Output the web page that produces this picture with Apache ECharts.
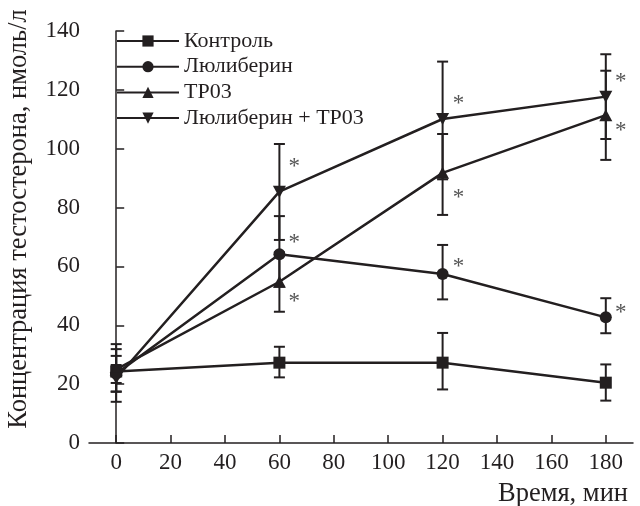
<!DOCTYPE html>
<html>
<head>
<meta charset="utf-8">
<script src="https://cdn.jsdelivr.net/npm/echarts@6/dist/echarts.min.js"></script>
<style>
  html, body { margin: 0; padding: 0; background: #fff; }
  #chart { width: 640px; height: 506px; }
</style>
</head>
<body>
<div id="chart"></div>
<script>
// время, мин
var times = [0, 60, 120, 180];
var xTicks = [0, 20, 40, 60, 80, 100, 120, 140, 160, 180];

var names = ['Контроль', 'Люлиберин', 'TP03', 'Люлиберин + TP03'];

// средние и границы ошибок
var ctrlVal = [24.3, 27.3, 27.3, 20.5];
var ctrlHi  = [31.9, 32.7, 37.4, 26.7];
var ctrlLo  = [17.4, 22.3, 18.2, 14.4];

var lulVal = [23.5, 64.1, 57.4, 42.7];
var lulHi  = [33.6, 77.1, 67.3, 49.2];
var lulLo  = [14.0, 53.1, 48.8, 37.3];

var tpVal = [25.0, 54.8, 91.8, 111.4];
var tpHi  = [29.6, 64.8, 105.0, 126.5];
var tpLo  = [20.4, 44.6, 77.5, 96.2];

var bothVal = [22.0, 85.4, 110.1, 117.7];
var bothHi  = [26.5, 101.6, 129.6, 132.1];
var bothLo  = [17.5, 69.0, 89.6, 103.3];

// звездочки (p < 0.05), в координатах данных
var starX = [65.5, 125.8, 185.5];
var lulStarY = [69.8, 61.5, 45.9];
var tpStarY = [49.6, 84.8, 107.7];
var bothStarY = [95.6, 116.9, 124.5];

var ink = '#231f20';
var serif = '"Liberation Serif", "DejaVu Serif", serif';

var _pairs = function (xs, ys) {
    var out = [];
    for (var i = 0; i < xs.length; i++) {
        out.push([xs[i], ys[i]]);
    }
    return out;
};

var _errData = function (lo, hi) {
    var out = [];
    for (var i = 0; i < times.length; i++) {
        out.push([times[i], lo[i], hi[i]]);
    }
    return out;
};

var _errSeries = function (lo, hi) {
    return {
        type: 'custom',
        silent: true,
        z: 1,
        data: _errData(lo, hi),
        renderItem: function (params, api) {
            var top = api.coord([api.value(0), api.value(2)]);
            var bot = api.coord([api.value(0), api.value(1)]);
            var w = 5.5;
            var st = { stroke: ink, lineWidth: 2 };
            return {
                type: 'group',
                children: [
                    { type: 'line', shape: { x1: top[0], y1: top[1], x2: bot[0], y2: bot[1] }, style: st },
                    { type: 'line', shape: { x1: top[0] - w, y1: top[1], x2: top[0] + w, y2: top[1] }, style: st },
                    { type: 'line', shape: { x1: bot[0] - w, y1: bot[1], x2: bot[0] + w, y2: bot[1] }, style: st }
                ]
            };
        }
    };
};

var _lineSeries = function (name, vals, symbol, size) {
    return {
        name: name,
        type: 'line',
        z: 3,
        data: _pairs(times, vals),
        symbol: symbol,
        symbolSize: size,
        showAllSymbol: true,
        lineStyle: { color: ink, width: 2.5 },
        itemStyle: { color: ink, borderWidth: 0 }
    };
};

var _starSeries = function (ys) {
    return {
        type: 'custom',
        silent: true,
        z: 4,
        data: _pairs(starX, ys),
        renderItem: function (params, api) {
            var p = api.coord([api.value(0), api.value(1)]);
            return {
                type: 'text',
                x: p[0],
                y: p[1] + 5,
                style: {
                    text: '*',
                    fill: '#555',
                    font: '23px ' + serif,
                    align: 'center',
                    verticalAlign: 'middle'
                }
            };
        }
    };
};

var myChart = echarts.init(document.getElementById('chart'), null, { renderer: 'canvas' });

var option = {
    animation: false,
    backgroundColor: '#fff',
    grid: { left: 89, right: 7, top: 31, bottom: 63, containLabel: false, outerBoundsMode: 'none' },
    legend: {
        data: names,
        orient: 'vertical',
        left: 111,
        top: 25,
        itemWidth: 62,
        itemHeight: 14,
        itemGap: 3.7,
        textStyle: { fontFamily: serif, fontSize: 22, lineHeight: 22, color: ink },
        selectedMode: false
    },
    xAxis: {
        type: 'value',
        min: -10,
        max: 190,
        name: 'Время, мин',
        nameLocation: 'end',
        nameGap: -5,
        nameTextStyle: {
            fontFamily: serif, fontSize: 26.5, color: ink,
            align: 'right', verticalAlign: 'top', padding: [38, 0, 0, 0]
        },
        splitLine: { show: false },
        axisLine: { lineStyle: { color: ink, width: 1.5 } },
        axisTick: { inside: true, length: 8, customValues: xTicks, lineStyle: { color: ink, width: 1.5 } },
        axisLabel: { customValues: xTicks, margin: 8, fontFamily: serif, fontSize: 23, color: ink }
    },
    yAxis: {
        type: 'value',
        min: 0,
        max: 140,
        interval: 20,
        name: 'Концентрация тестостерона, нмоль/л',
        nameLocation: 'middle',
        nameGap: 56,
        nameTextStyle: { fontFamily: serif, fontSize: 26.5, color: ink, padding: [0, 0, 0, 36] },
        splitLine: { show: false },
        axisLine: { show: true, lineStyle: { color: ink, width: 1.5 } },
        axisTick: { show: true, inside: true, length: 8, lineStyle: { color: ink, width: 1.5 } },
        axisLabel: { margin: 9, fontFamily: serif, fontSize: 23, color: ink }
    },
    series: [
        _errSeries(ctrlLo, ctrlHi),
        _errSeries(lulLo, lulHi),
        _errSeries(tpLo, tpHi),
        _errSeries(bothLo, bothHi),
        _lineSeries(names[0], ctrlVal, 'rect', 12),
        _lineSeries(names[1], lulVal, 'circle', 12),
        _lineSeries(names[2], tpVal, 'triangle', [13, 12]),
        _lineSeries(names[3], bothVal, 'path://M0,0L10,0L5,9Z', [13, 12]),
        _starSeries(lulStarY),
        _starSeries(tpStarY),
        _starSeries(bothStarY)
    ]
};

myChart.setOption(option);
</script>
</body>
</html>
